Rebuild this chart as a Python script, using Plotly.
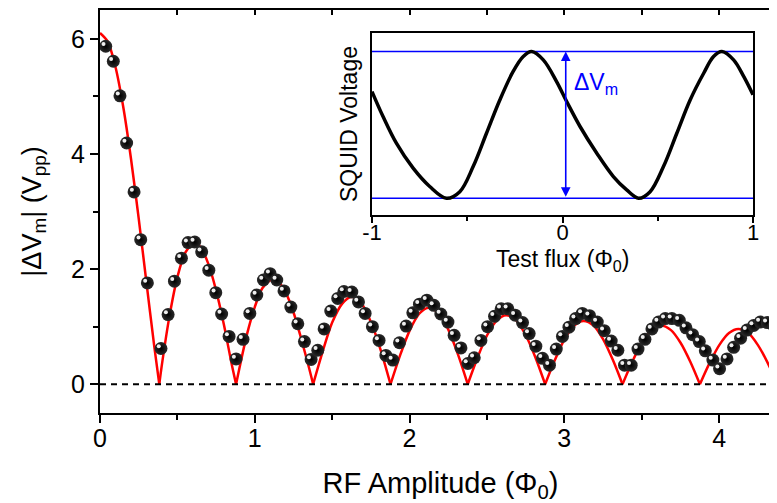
import plotly.graph_objects as go

# ---------------- main data: |dVm| vs RF amplitude ----------------
rf_amp = [0.037, 0.086, 0.129, 0.172, 0.220, 0.263, 0.306,
          0.394, 0.440, 0.481, 0.526, 0.569, 0.612, 0.657, 0.703, 0.748, 0.786,
          0.834, 0.879, 0.924, 0.968, 1.013, 1.056, 1.099, 1.142, 1.189, 1.233, 1.278, 1.321, 1.364,
          1.407, 1.448, 1.491, 1.536, 1.576,
          1.627, 1.670, 1.713, 1.760, 1.803, 1.847, 1.892, 1.935, 1.978, 2.021, 2.064, 2.112, 2.157, 2.202, 2.248, 2.288, 2.332,
          2.377, 2.418, 2.461, 2.504, 2.549, 2.592, 2.635, 2.683, 2.730, 2.773, 2.816, 2.859, 2.904, 2.948, 2.988, 3.030, 3.073, 3.116,
          3.163, 3.213, 3.258, 3.303, 3.346, 3.389, 3.432, 3.476, 3.521, 3.566, 3.609, 3.652, 3.695, 3.743, 3.786, 3.829, 3.872, 3.911,
          3.960, 4.003, 4.051, 4.094, 4.139, 4.180, 4.223, 4.266, 4.311, 4.355]
dv_m = [5.87, 5.61, 5.01, 4.19, 3.34, 2.51, 1.76,
        0.62, 1.21, 1.79, 2.19, 2.46, 2.47, 2.30, 1.98, 1.59, 1.22,
        0.83, 0.44, 0.78, 1.23, 1.55, 1.81, 1.92, 1.81, 1.62, 1.34, 1.05, 0.74, 0.43,
        0.59, 0.96, 1.27, 1.49, 1.61,
        1.60, 1.43, 1.23, 1.00, 0.76, 0.50, 0.42, 0.72, 1.01, 1.24, 1.39, 1.46, 1.37, 1.22, 1.08, 0.85, 0.63,
        0.36, 0.46, 0.76, 1.00, 1.18, 1.31, 1.31, 1.20, 1.07, 0.88, 0.66, 0.45, 0.33, 0.61, 0.83, 0.99, 1.14, 1.23,
        1.19, 1.08, 0.93, 0.75, 0.59, 0.33, 0.33, 0.61, 0.78, 0.96, 1.08, 1.14, 1.14, 1.11, 0.98, 0.86, 0.74, 0.58,
        0.42, 0.27, 0.44, 0.64, 0.80, 0.94, 1.02, 1.08, 1.07, 1.01]

# fit curve, read lobe by lobe (each lobe drawn as its own smooth segment)
fit_lobes_x = [
    [0.0, 0.05, 0.10, 0.15, 0.20, 0.25, 0.30, 0.35, 0.383],
    [0.383, 0.40, 0.45, 0.50, 0.55, 0.61, 0.65, 0.70, 0.75, 0.80, 0.85, 0.879],
    [0.879, 0.90, 0.95, 1.00, 1.05, 1.117, 1.15, 1.20, 1.25, 1.30, 1.35, 1.377],
    [1.377, 1.44, 1.50, 1.565, 1.625, 1.69, 1.752, 1.815, 1.877],
    [1.877, 1.94, 2.002, 2.064, 2.125, 2.19, 2.252, 2.314, 2.376],
    [2.376, 2.439, 2.501, 2.564, 2.624, 2.689, 2.751, 2.814, 2.876],
    [2.876, 2.939, 3.001, 3.064, 3.124, 3.189, 3.251, 3.314, 3.376],
    [3.376, 3.439, 3.501, 3.564, 3.624, 3.689, 3.751, 3.814, 3.876],
    [3.876, 3.939, 4.001, 4.064, 4.124, 4.189, 4.251, 4.314, 4.376],
]
fit_lobes_y = [
    [6.10, 5.95, 5.51, 4.82, 3.92, 2.88, 1.77, 0.67, 0.0],
    [0.0, 0.34, 1.20, 1.86, 2.28, 2.46, 2.38, 2.09, 1.63, 1.04, 0.36, 0.0],
    [0.0, 0.27, 0.87, 1.34, 1.67, 1.83, 1.79, 1.59, 1.25, 0.79, 0.29, 0.0],
    [0.0, 0.58, 1.07, 1.40, 1.52, 1.40, 1.07, 0.58, 0.0],
    [0.0, 0.51, 0.94, 1.23, 1.33, 1.23, 0.94, 0.51, 0.0],
    [0.0, 0.46, 0.85, 1.11, 1.20, 1.11, 0.85, 0.46, 0.0],
    [0.0, 0.42, 0.78, 1.02, 1.10, 1.02, 0.78, 0.42, 0.0],
    [0.0, 0.39, 0.72, 0.94, 1.02, 0.94, 0.72, 0.39, 0.0],
    [0.0, 0.37, 0.68, 0.89, 0.96, 0.89, 0.68, 0.37, 0.0],
]

# ---------------- inset data: SQUID voltage vs test flux ----------------
test_flux = [-1.0, -0.942, -0.872, -0.784, -0.697, -0.609, -0.539, -0.469, -0.399, -0.329,
             -0.259, -0.206, -0.162, -0.101, -0.031, 0.022, 0.092, 0.180, 0.267, 0.337,
             0.399, 0.460, 0.530, 0.600, 0.670, 0.741, 0.793, 0.837, 0.898, 0.951, 1.0]
squid_v = [0.727, 0.557, 0.375, 0.205, 0.080, 0.0, 0.045, 0.216, 0.443, 0.670,
           0.864, 0.966, 1.0, 0.943, 0.795, 0.659, 0.489, 0.307, 0.148, 0.057,
           0.0, 0.045, 0.216, 0.443, 0.670, 0.852, 0.966, 1.0, 0.943, 0.830, 0.705]
v_min, v_max = 0.0, 1.0
arrow_flux = 0.017

main_ticks_x = [0, 1, 2, 3, 4]
main_ticks_y = [0, 2, 4, 6]
inset_ticks_x = [-1, 0, 1]

FONT = "Liberation Sans, Arial, sans-serif"
BLUE = "#0000ff"

W, H = 777, 503
M_L, M_R, M_T, M_B = 92, 4, 2, 98
X_RANGE = [0, 4.4]
Y_RANGE = [-0.5, 6.5]

fig = go.Figure()

# fit curve
fx, fy = [], []
for lx, ly in zip(fit_lobes_x, fit_lobes_y):
    fx += lx + [None]
    fy += ly + [None]
fig.add_trace(go.Scatter(x=fx, y=fy, mode="lines", connectgaps=False,
                         line=dict(color="#ff0000", width=2.5, shape="spline", smoothing=0.8),
                         hoverinfo="skip", showlegend=False))

# data spheres: dark ball + small specular highlight shifted up-left by a few pixels
fig.add_trace(go.Scatter(x=rf_amp, y=dv_m, mode="markers",
                         marker=dict(size=13, color="#2a2a2a",
                                     gradient=dict(type="radial", color="#000000"),
                                     line=dict(width=0)),
                         showlegend=False))
px_x = (X_RANGE[1] - X_RANGE[0]) / (W - M_L - M_R)
px_y = (Y_RANGE[1] - Y_RANGE[0]) / (H - M_T - M_B)
fig.add_trace(go.Scatter(x=[v - 2.2 * px_x for v in rf_amp], y=[v + 2.2 * px_y for v in dv_m],
                         mode="markers",
                         marker=dict(size=4, color="#eeeeee", line=dict(width=0)),
                         hoverinfo="skip", showlegend=False))

# inset traces
fig.add_trace(go.Scatter(x=[-1, 1], y=[v_max, v_max], mode="lines", xaxis="x2", yaxis="y2",
                         line=dict(color=BLUE, width=1.5), showlegend=False))
fig.add_trace(go.Scatter(x=[-1, 1], y=[v_min, v_min], mode="lines", xaxis="x2", yaxis="y2",
                         line=dict(color=BLUE, width=1.5), showlegend=False))
fig.add_trace(go.Scatter(x=test_flux, y=squid_v, mode="lines", xaxis="x2", yaxis="y2",
                         line=dict(color="#000000", width=3.5, shape="spline", smoothing=1.0),
                         showlegend=False))

# dashed zero line
fig.add_shape(type="line", xref="x domain", yref="y", x0=0, x1=1, y0=0, y1=0,
              line=dict(color="black", width=2, dash="6px,5px"))

# double arrow dVm
fig.add_annotation(x=arrow_flux, y=v_max, ax=arrow_flux, ay=v_min, xref="x2", yref="y2",
                   axref="x2", ayref="y2", text="", showarrow=True, arrowside="end+start",
                   arrowhead=2, arrowsize=1.2, arrowwidth=1.6, arrowcolor=BLUE)
fig.add_annotation(x=0.05, y=0.78, xref="x2", yref="y2", text="ΔV<sub>m</sub>",
                   showarrow=False, xanchor="left", yanchor="middle",
                   font=dict(family=FONT, size=23, color=BLUE))

# inset x-axis title (placed closer to the axis than the axis title standoff allows)
fig.add_annotation(x=0.5, y=0.379, xref="x2 domain", yref="paper", text="Test flux (Φ<sub>0</sub>)",
                   showarrow=False, xanchor="center", yanchor="middle",
                   font=dict(family=FONT, size=23, color="black"))

axis_common = dict(showgrid=False, zeroline=False, color="black", linecolor="black",
                   tickcolor="black", automargin=False)

fig.update_layout(
    width=W, height=H,
    margin=dict(l=M_L, r=M_R, t=M_T, b=M_B),
    paper_bgcolor="white", plot_bgcolor="white",
    font=dict(family=FONT, size=25, color="black"),
    xaxis=dict(**axis_common, range=X_RANGE, tickvals=main_ticks_x,
               ticks="outside", ticklen=8, tickwidth=2, showline=True, linewidth=2, mirror=True,
               minor=dict(dtick=0.5, ticks="outside", ticklen=5, tickwidth=2),
               title=dict(text="RF Amplitude (Φ<sub>0</sub>)", font=dict(size=29), standoff=22),
               tickfont=dict(size=25), ticklabelstandoff=-6),
    yaxis=dict(**axis_common, range=Y_RANGE, tickvals=main_ticks_y,
               ticks="outside", ticklen=8, tickwidth=2, showline=True, linewidth=2,
               minor=dict(dtick=1, ticks="outside", ticklen=5, tickwidth=2),
               title=dict(text="|ΔV<sub>m</sub>| (V<sub>pp</sub>)", font=dict(size=27), standoff=22),
               tickfont=dict(size=25)),
    xaxis3=dict(**axis_common, overlaying="x", side="top", range=X_RANGE,
                tickvals=main_ticks_x, ticks="inside", ticklen=5, tickwidth=2, showticklabels=False,
                minor=dict(dtick=0.5, ticks="inside", ticklen=5, tickwidth=2), anchor="y3"),
    yaxis3=dict(**axis_common, overlaying="y", side="right", range=Y_RANGE,
                tickvals=main_ticks_y, ticks="inside", ticklen=6, tickwidth=2, showticklabels=False,
                minor=dict(dtick=1, ticks="inside", ticklen=3, tickwidth=2), anchor="x3"),
    xaxis2=dict(**axis_common, domain=[0.3994, 0.9589], anchor="y2", range=[-1, 1],
                tickvals=inset_ticks_x, ticktext=["-1", "0", "1"], ticks="outside", ticklen=6, tickwidth=1.5,
                minor=dict(dtick=0.5, ticks="outside", ticklen=4, tickwidth=1.5),
                showline=True, linewidth=1.8, mirror=True,
                tickfont=dict(size=22), ticklabelstandoff=-9),
    yaxis2=dict(**axis_common, domain=[0.4913, 0.9429], anchor="x2", range=[-0.114, 1.126],
                showticklabels=False, ticks="", showline=True, linewidth=1.8, mirror=True,
                title=dict(text="SQUID Voltage", font=dict(size=23), standoff=6)),
)

# empty trace so the mirrored-tick overlay axes are rendered
fig.add_trace(go.Scatter(x=[None], y=[None], xaxis="x3", yaxis="y3", showlegend=False, hoverinfo="skip"))

fig.write_html("out.html")
